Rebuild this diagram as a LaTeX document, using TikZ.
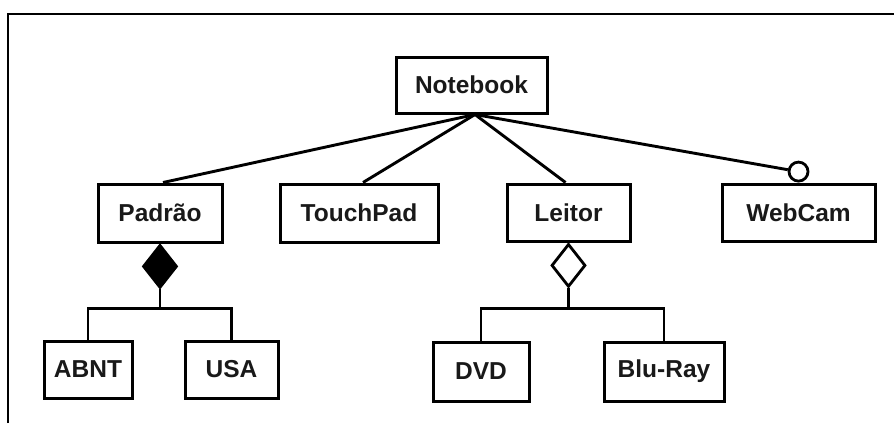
\documentclass[tikz,border=0pt]{standalone}
\usepackage{fontspec}
\setmainfont{Liberation Sans}
\usetikzlibrary{shapes.geometric,calc}
\begin{document}
\begin{tikzpicture}[x=1pt,y=-1pt,
  box/.style={draw=black,line width=3pt,fill=white,inner sep=0pt,
    font=\fontsize{24.5}{24.5}\selectfont\bfseries,text=black!90},
  link/.style={draw=black,line width=2.9pt},
  agg/.style={diamond,draw=black,line width=2.8pt,inner sep=0pt,
    minimum width=34pt,minimum height=43pt,anchor=north}]
  \useasboundingbox (0,0) rectangle (894,423);
  % outer frame (top and left edges)
  \draw[line width=2.2pt] (8,423) -- (8,14) -- (894,14);

  % classes
  \node[box,minimum width=151pt,minimum height=56pt] (nb) at (471.5,85) {Notebook};
  \node[box,minimum width=124pt,minimum height=58pt] (pad) at (160,213) {Padrão};
  \node[box,minimum width=158pt,minimum height=58pt] (tp) at (359,213) {TouchPad};
  \node[box,minimum width=123pt,minimum height=57pt] (lei) at (568.5,212.5) {Leitor};
  \node[box,minimum width=153pt,minimum height=57pt] (web) at (798.5,212.5) {WebCam};
  \node[box,minimum width=88pt,minimum height=57pt] (abnt) at (88,369.5) {ABNT};
  \node[box,minimum width=93pt,minimum height=57pt] (usa) at (231.5,369.5) {USA};
  \node[box,minimum width=96pt,minimum height=59pt] (dvd) at (481,371.5) {DVD};
  \node[box,minimum width=120pt,minimum height=59pt] (blu) at (664,371.5) {Blu-Ray};

  % associations from Notebook
  \coordinate (hub) at ($(nb.south)+(3.5,0)$);
  \draw[link] (hub) -- ($(pad.north)+(3,0)$);
  \draw[link] (hub) -- ($(tp.north)+(4,0)$);
  \draw[link] (hub) -- ($(lei.north)+(-3,0)$);
  \node[circle,draw=black,line width=2.8pt,fill=white,inner sep=0pt,
    minimum size=19pt,anchor=south] (opt) at (web.north) {};
  \draw[link] (hub) -- (opt);

  % composition: Padrao
  \node[agg,fill=black] (cpad) at (pad.south) {};
  \coordinate (jpad) at ($(pad.south)+(0,65)$);
  \draw[link] (cpad.south) -- (jpad);
  \draw[link] (abnt.north) |- (jpad) -| (usa.north);

  % aggregation: Leitor
  \node[agg,fill=white] (alei) at (lei.south) {};
  \coordinate (jlei) at ($(lei.south)+(0,66)$);
  \draw[link] (alei.south) -- (jlei);
  \draw[link] (dvd.north) |- (jlei) -| (blu.north);
\end{tikzpicture}
\end{document}
